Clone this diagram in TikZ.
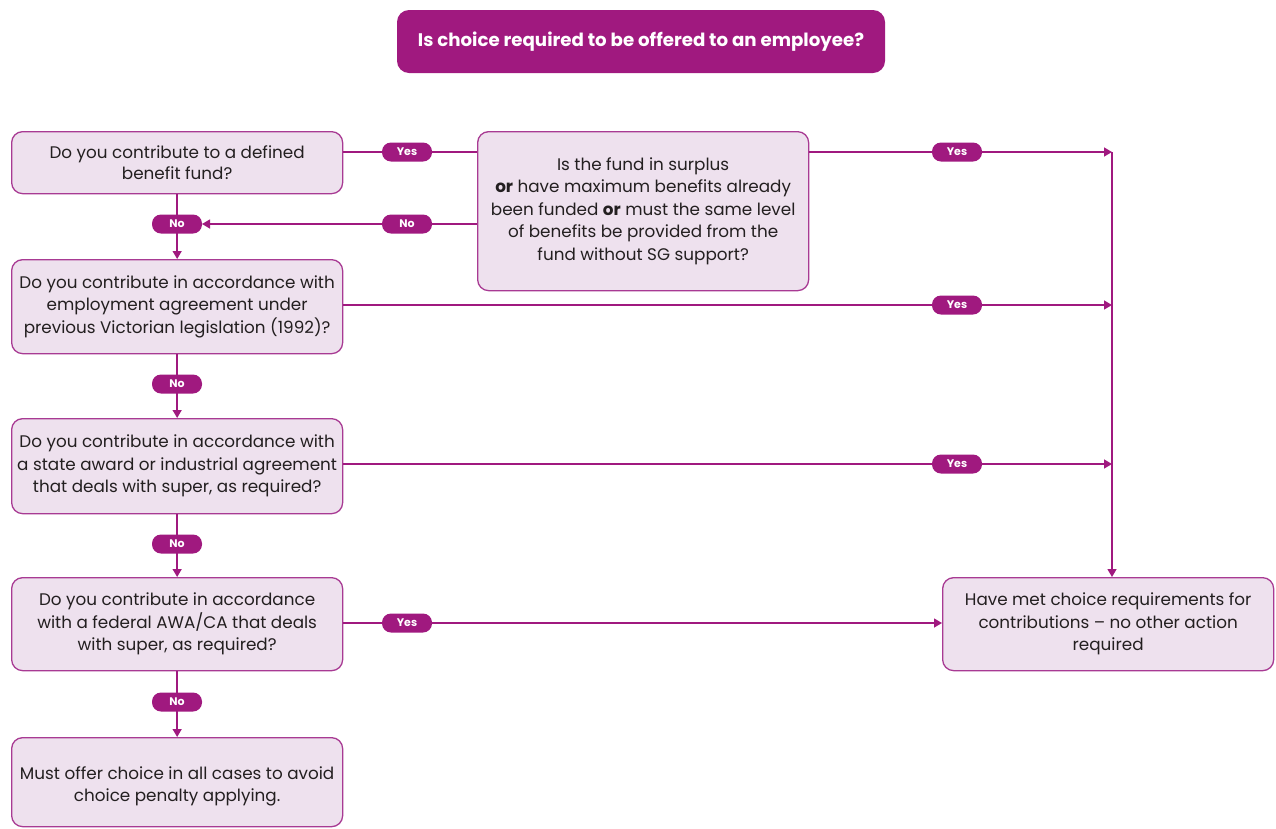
\documentclass[tikz,border=0pt]{standalone}
\usepackage{fontspec}
\setmainfont{Poppins}
\usetikzlibrary{arrows.meta}
\definecolor{purp}{HTML}{A0197F}
\definecolor{lilac}{HTML}{EEE1EE}
\definecolor{edge}{HTML}{A83A93}
\definecolor{ink}{HTML}{231F20}
\tikzset{
  qbox/.style={draw=edge, line width=1.3pt, fill=lilac, rounded corners=11pt, align=center,
    text=ink, inner sep=0pt, anchor=north west},
  qtext/.style={text=ink, font=\fontsize{16.8}{22.5}\selectfont, align=center, inner sep=0pt},
  pill/.style={fill=purp, rounded corners=9pt, minimum width=50pt, minimum height=19pt,
    inner sep=0pt, text=white, font=\fontsize{11}{12}\selectfont\bfseries},
  conn/.style={draw=purp, line width=1.4pt},
  arr/.style={conn, -{Triangle[length=8pt,width=9pt]}},
}
\begin{document}
\begin{tikzpicture}[x=1pt,y=-1pt]
\useasboundingbox (0,0) rectangle (1276,828);
% title
\node[fill=purp, rounded corners=12pt, minimum width=488pt, minimum height=63pt, inner sep=0pt,
  text=white, font=\fontsize{18.2}{20}\selectfont\bfseries] (title) at (641,41.5) {Is choice required to be offered to an employee?};
% boxes
\node[qbox, minimum width=331pt, minimum height=62pt] (b1) at (11,131) {};
\node[qtext, font=\fontsize{16.8}{21}\selectfont] at (b1.center) {Do you contribute to a defined\\benefit fund?};
\node[qbox, minimum width=331pt, minimum height=159pt] (b2) at (477,131) {};
\node[qtext] at (b2.center) {Is the fund in surplus\\\textbf{or} have maximum benefits already\\been funded \textbf{or} must the same level\\of benefits be provided from the\\fund without SG support?};
\node[qbox, minimum width=331pt, minimum height=94pt] (b3) at (11,259) {};
\node[qtext] at (b3.center) {Do you contribute in accordance with\\employment agreement under\\previous Victorian legislation (1992)?};
\node[qbox, minimum width=331pt, minimum height=95pt] (b4) at (11,418) {};
\node[qtext] at (b4.center) {Do you contribute in accordance with\\a state award or industrial agreement\\that deals with super, as required?};
\node[qbox, minimum width=331pt, minimum height=93pt] (b5) at (11,577) {};
\node[qtext] at (b5.center) {Do you contribute in accordance\\with a federal AWA/CA that deals\\with super, as required?};
\node[qbox, minimum width=331pt, minimum height=89pt] (b6) at (11,737) {};
\node[qtext] at ([yshift=-4pt]b6.center) {Must offer choice in all cases to avoid\\choice penalty applying.};
\node[qbox, minimum width=331pt, minimum height=93pt] (r) at (942,577) {};
\node[qtext] at (r.center) {Have met choice requirements for\\contributions -- no other action\\required};
% junction coordinates
\coordinate (j1) at (1112,152);
\coordinate (j3) at (1112,305);
\coordinate (j4) at (1112,464);
% pill positions
\coordinate (py1) at (407,152);
\coordinate (py2) at (957,152);
\coordinate (pn0) at (407,224);
\coordinate (pn1) at (177,224);
\coordinate (py3) at (957,305);
\coordinate (pn2) at (177,384);
\coordinate (py4) at (957,464);
\coordinate (pn3) at (177,544);
\coordinate (py5) at (407,623);
\coordinate (pn4) at (177,702);
% connectors (drawn first, pills on top)
\draw[conn] (b1.east |- py1) -- (b2.west |- py1);
\draw[arr] (b2.east |- py2) -- (j1);
\draw[arr] (b2.west |- pn0) -- ([xshift=25pt]pn1);
\draw[arr] (b1.south) -- (b3.north);
\draw[arr] (b3.east |- py3) -- (j3);
\draw[arr] (b3.south) -- (b4.north);
\draw[arr] (b4.east |- py4) -- (j4);
\draw[arr] (b4.south) -- (b5.north);
\draw[arr] (b5.east |- py5) -- (r.west |- py5);
\draw[arr] (b5.south) -- (b6.north);
\draw[arr] (j1) -- (j1 |- r.north);
% pills
\node[pill] (y1) at (py1) {Yes};
\node[pill] (y2) at (py2) {Yes};
\node[pill] (n0) at (pn0) {No};
\node[pill] (n1) at (pn1) {No};
\node[pill] (y3) at (py3) {Yes};
\node[pill] (n2) at (pn2) {No};
\node[pill] (y4) at (py4) {Yes};
\node[pill] (n3) at (pn3) {No};
\node[pill] (y5) at (py5) {Yes};
\node[pill] (n4) at (pn4) {No};
\end{tikzpicture}
\end{document}
